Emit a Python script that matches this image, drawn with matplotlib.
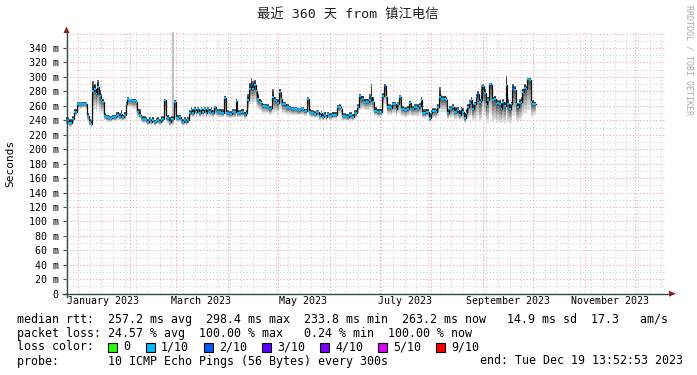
import matplotlib
matplotlib.use("Agg")
import matplotlib.pyplot as plt
import matplotlib.dates as mdates
from matplotlib.patches import Rectangle, Polygon
from matplotlib.lines import Line2D
from datetime import datetime, timedelta

# ---------------- data ----------------
title = "最近 360 天 from 镇江电信"
y_label = "Seconds"
start_time = datetime(2022, 12, 24, 13, 52, 53)
end_time = datetime(2023, 12, 19, 13, 52, 53)

# day offsets from start of graph
days = [0, 2, 4, 5, 7, 10, 12, 13, 14, 15, 16, 17, 18, 19, 20, 21, 22, 23, 24, 26, 28, 30, 31, 32, 33, 34, 35,
        36, 37, 38, 40, 42, 43, 44, 45, 46, 48, 49, 50, 51, 52, 53, 54, 55, 56, 57, 58, 59, 60, 61, 62, 63, 65, 66, 68, 69, 70, 71, 72, 73,
        74, 75, 76, 77, 78, 79, 80, 81, 82, 83, 84, 85, 86, 87, 88, 89, 90, 91, 92, 93, 95, 96, 98, 100, 102, 103, 105, 107, 108,
        109, 110, 111, 112, 113, 114, 115, 116, 117, 118, 120, 122, 123, 124, 125, 126, 127, 128, 129, 130, 132, 134, 135, 137, 139, 141, 143, 145, 146, 147, 149, 150, 152, 153, 154, 155, 156, 157, 158, 160, 162,
        163, 164, 165, 166, 168, 170, 172, 173, 175, 176, 177, 178, 179, 181, 182, 183, 184, 185, 187, 189, 190, 191, 192, 193, 195, 196, 198, 199, 200, 201, 203, 205, 206, 207, 209, 211, 212, 213,
        214, 216, 218, 219, 220, 222, 223, 224, 225, 226, 228, 229, 230, 232, 233, 235, 236, 237, 238, 239, 240, 241, 242, 243, 244, 245, 246, 247, 248, 249, 250,
        251, 252, 253, 254, 255, 256, 257, 258, 259, 260, 261, 262, 263, 264, 265, 266, 267, 268, 269, 270, 271, 272, 273, 274, 275, 276, 277, 278, 279, 280, 281]

# median rtt (ms)
median_ms = [240, 236, 242, 252, 262, 263, 262, 246, 238, 235, 280, 284, 276, 286, 274, 268, 266, 246, 244, 243, 244, 246, 248, 245, 249, 244, 248,
             262, 270, 268, 267, 266, 252, 248, 244, 242, 240, 237, 240, 238, 241, 237, 239, 240, 238, 241, 242, 268, 244, 243, 238, 242, 266, 243, 244, 240, 238, 240, 237, 240,
             250, 254, 250, 256, 252, 255, 250, 256, 252, 255, 250, 256, 252, 254, 250, 258, 254, 251, 252, 250, 271, 250, 249, 251, 267, 250, 252, 248, 250,
             268, 284, 288, 284, 289, 280, 270, 266, 264, 260, 258, 256, 257, 272, 268, 267, 264, 279, 270, 262, 258, 257, 255, 256, 254, 255, 253, 269, 252, 250, 249, 251, 246, 250, 245, 248, 244, 249, 246, 248, 247,
             258, 259, 256, 246, 245, 247, 245, 250, 258, 273, 268, 270, 266, 266, 268, 272, 266, 253, 252, 252, 274, 287, 272, 258, 257, 262, 256, 262, 272, 256, 254, 256, 264, 256, 258, 257, 260, 268,
             250, 252, 243, 250, 253, 252, 258, 272, 270, 270, 268, 250, 255, 258, 252, 254, 248, 255, 252, 243, 250, 258, 264, 268, 256, 262, 272, 276, 266, 268, 287,
             278, 262, 268, 290, 289, 268, 270, 262, 264, 262, 256, 265, 260, 289, 262, 256, 262, 283, 282, 262, 258, 264, 266, 279, 285, 284, 297, 296, 266, 263, 263]

# smoke: lowest ping (ms)
smoke_lo_ms = [233, 231, 236, 246, 256, 257, 255, 240, 232, 230, 250, 256, 252, 258, 252, 250, 250, 240, 238, 238, 239, 240, 241, 240, 241, 239, 240,
               252, 258, 258, 256, 252, 245, 242, 238, 236, 235, 233, 234, 233, 235, 232, 234, 235, 233, 236, 236, 248, 238, 236, 232, 234, 244, 238, 238, 234, 232, 234, 233, 235,
               244, 246, 244, 248, 245, 247, 244, 248, 245, 247, 243, 248, 245, 246, 244, 248, 246, 245, 244, 244, 248, 244, 243, 244, 248, 244, 244, 242, 244,
               254, 262, 266, 262, 266, 260, 256, 254, 252, 250, 250, 248, 248, 250, 252, 252, 250, 256, 254, 250, 248, 248, 248, 248, 247, 248, 246, 250, 245, 244, 243, 244, 240, 243, 239, 242, 238, 243, 240, 242, 241,
               248, 250, 248, 240, 239, 240, 239, 243, 250, 254, 254, 256, 254, 254, 254, 256, 252, 246, 244, 244, 256, 262, 256, 248, 247, 250, 246, 250, 250, 246, 245, 246, 248, 246, 246, 246, 248, 250,
               243, 244, 237, 242, 243, 243, 246, 252, 252, 252, 250, 242, 244, 245, 242, 243, 240, 243, 242, 236, 240, 242, 244, 246, 240, 240, 242, 246, 238, 240, 252,
               246, 236, 236, 250, 248, 238, 240, 236, 238, 236, 236, 238, 236, 248, 238, 236, 236, 246, 246, 240, 238, 240, 242, 248, 250, 250, 254, 254, 244, 246, 248]

# smoke: highest ping (ms)
smoke_hi_ms = [244, 242, 246, 256, 265, 266, 265, 250, 242, 240, 294, 290, 282, 296, 282, 276, 270, 250, 248, 246, 248, 252, 252, 250, 254, 248, 252,
               266, 272, 270, 270, 268, 256, 256, 248, 246, 244, 242, 244, 242, 245, 241, 243, 245, 242, 246, 246, 270, 248, 248, 244, 246, 268, 248, 248, 244, 242, 244, 242, 244,
               254, 258, 256, 259, 256, 258, 254, 259, 256, 258, 254, 258, 256, 258, 254, 260, 258, 256, 256, 255, 274, 254, 253, 255, 270, 254, 256, 252, 254,
               276, 292, 298, 294, 296, 286, 276, 270, 268, 263, 262, 260, 260, 283, 272, 270, 270, 284, 276, 266, 262, 260, 258, 258, 257, 258, 256, 272, 256, 254, 253, 254, 250, 253, 249, 252, 248, 252, 250, 252, 252,
               261, 262, 260, 250, 249, 251, 249, 254, 262, 277, 272, 274, 270, 270, 276, 290, 272, 258, 256, 256, 278, 290, 280, 262, 261, 266, 260, 265, 275, 260, 258, 260, 267, 260, 262, 262, 264, 272,
               256, 256, 250, 254, 257, 256, 262, 286, 275, 274, 272, 256, 260, 262, 258, 258, 254, 259, 257, 250, 255, 263, 268, 272, 262, 266, 276, 280, 270, 289, 290,
               283, 266, 272, 292, 292, 272, 274, 266, 268, 268, 264, 270, 266, 301, 270, 262, 266, 290, 288, 268, 264, 270, 272, 284, 290, 288, 299, 299, 272, 268, 266]

data_end_day = 282
loss2_days = [111, 191, 247, 255, 268]      # steps where median is drawn in "2/10" colour
outlier_day = [64]                           # single light-grey outlier column
outlier_lo_ms = [244]
outlier_hi_ms = [362]

y_ticks = [0, 20, 40, 60, 80, 100, 120, 140, 160, 180, 200, 220, 240, 260, 280, 300, 320, 340]
x_label_months = [(2023, 1, "January 2023"), (2023, 3, "March 2023"), (2023, 5, "May 2023"),
                  (2023, 7, "July 2023"), (2023, 9, "September 2023"), (2023, 11, "November 2023")]

legend_rtt = "median rtt:  257.2 ms avg  298.4 ms max  233.8 ms min  263.2 ms now   14.9 ms sd  17.3   am/s"
legend_loss = "packet loss: 24.57 % avg  100.00 % max   0.24 % min  100.00 % now"
loss_labels = ["0", "1/10", "2/10", "3/10", "4/10", "5/10", "9/10"]
loss_colors = ["#26ff00", "#00b8ff", "#0059ff", "#5e00ff", "#7e00ff", "#dd00ff", "#ff0000"]
probe_text = "probe:       10 ICMP Echo Pings (56 Bytes) every 300s"
end_text = "end: Tue Dec 19 13:52:53 2023"
credit = "RRDTOOL / TOBI OETIKER"

assert len(days) == len(median_ms) == len(smoke_lo_ms) == len(smoke_hi_ms)

# ---------------- figure ----------------
W, H = 697, 375
fig = plt.figure(figsize=(W / 100, H / 100), dpi=100)
fig.patch.set_facecolor("white")
MONO = "DejaVu Sans Mono"


def fx(px):
    return px / W


def fy(py):
    return 1 - py / H


L, R, T, B = 65.5, 665.5, 32.0, 293.7
ax = fig.add_axes([fx(L), fy(B), (R - L) / W, (B - T) / H])
ax.set_facecolor("white")
for s in ax.spines.values():
    s.set_visible(False)

x0 = mdates.date2num(start_time)
x1 = mdates.date2num(end_time)
ax.set_xlim(x0, x1)
ax.set_ylim(0, 362.2)

# grid
grid_minor = "#d2d2d2"
grid_major = "#e9a3a3"
dot = (0, (1, 2))
for v in range(10, 361, 10):
    major = v % 20 == 0
    ax.axhline(v, color=grid_major if major else grid_minor, lw=0.8, ls=dot, zorder=1)
d = datetime(2022, 12, 25)  # Sundays
while d < end_time:
    if d.day != 1:
        ax.axvline(mdates.date2num(d), color=grid_minor, lw=0.8, ls=dot, zorder=1)
    d += timedelta(days=7)
for m in range(1, 13):
    ax.axvline(mdates.date2num(datetime(2023, m, 1)), color=grid_major, lw=0.8, ls=dot, zorder=1)

# data in date coordinates
xs = [mdates.date2num(start_time + timedelta(days=v)) for v in days]
xs_ext = xs + [mdates.date2num(start_time + timedelta(days=data_end_day))]
med_ext = median_ms + [median_ms[-1]]
lo_ext = smoke_lo_ms + [smoke_lo_ms[-1]]
hi_ext = smoke_hi_ms + [smoke_hi_ms[-1]]

# outlier column
for dd, lo, hi in zip(outlier_day, outlier_lo_ms, outlier_hi_ms):
    xa = mdates.date2num(start_time + timedelta(days=dd))
    ax.fill_between([xa, xa + 0.9], [lo, lo], [hi, hi], color="#c4c4c4", lw=0, zorder=2)

# smoke below median
lower_greys = ["#5a5a5a", "#767676", "#939393", "#afafaf", "#c8c8c8", "#dedede"]
n = len(lower_greys)
for j, c in enumerate(lower_greys):
    f0, f1 = j / n, (j + 1) / n
    a = [m - (m - l) * f0 for m, l in zip(med_ext, lo_ext)]
    b = [m - (m - l) * f1 for m, l in zip(med_ext, lo_ext)]
    ax.fill_between(xs_ext, b, a, step="post", color=c, lw=0, zorder=2)
# smoke above median
upper_greys = ["#1c1c1c", "#2e2e2e", "#474747", "#6a6a6a"]
n = len(upper_greys)
for j, c in enumerate(upper_greys):
    f0, f1 = j / n, (j + 1) / n
    a = [m + (h - m) * f0 for m, h in zip(med_ext, hi_ext)]
    b = [m + (h - m) * f1 for m, h in zip(med_ext, hi_ext)]
    ax.fill_between(xs_ext, a, b, step="post", color=c, lw=0, zorder=2)

# median line: black connectors + loss-coloured steps
ax.step(xs_ext, med_ext, where="post", color="#111111", lw=0.9, zorder=3)
seg_colors = [loss_colors[2] if dd in loss2_days else loss_colors[1] for dd in days]
ax.hlines(median_ms, xs_ext[:-1], xs_ext[1:], colors=seg_colors, lw=1.6, zorder=4)

# y ticks
ax.set_yticks(y_ticks)
ax.set_yticklabels([("%d m" % v) if v else "0" for v in y_ticks], fontfamily=MONO, fontsize=7.2)
ax.tick_params(axis="y", length=2, width=0.8, color="#2c4d43", pad=3)

# x tick labels at mid-month
xt = [mdates.date2num(datetime(yy, mm, 16)) for yy, mm, _ in x_label_months]
ax.set_xticks(xt)
ax.set_xticklabels([lab for _, _, lab in x_label_months], fontfamily=MONO, fontsize=7.2)
ax.tick_params(axis="x", length=0, pad=2)

# axes lines with arrows
axis_c = "#2c4d43"
arrow_c = "#9a1a1a"
fig.add_artist(Line2D([fx(66.5), fx(66.5)], [fy(297), fy(31)], color=axis_c, lw=1.0))
fig.add_artist(Line2D([fx(63), fx(670)], [fy(B), fy(B)], color=axis_c, lw=1.0))
fig.add_artist(Polygon([[fx(63.5), fy(33)], [fx(69.5), fy(33)], [fx(66.5), fy(26.5)]], closed=True,
                       color=arrow_c, lw=0))
fig.add_artist(Polygon([[fx(669), fy(B - 3)], [fx(669), fy(B + 3)], [fx(676), fy(B)]], closed=True,
                       color=arrow_c, lw=0))

# title, axis label, credit
fig.text(fx(348), fy(15), title, ha="center", va="center", fontsize=9.6,
         family=[MONO, "Noto Sans CJK SC"], color="#222222")
fig.text(fx(10), fy(163), y_label, rotation=90, ha="center", va="center", fontsize=8, family=MONO)
fig.text(fx(689), fy(60), credit, rotation=270, ha="center", va="center", fontsize=6,
         family=MONO, color="#a8a8a8")

# legend
LEG_FS = 8.4
fig.text(fx(17), fy(319), legend_rtt, ha="left", va="center", fontsize=LEG_FS, family=MONO)
fig.text(fx(17), fy(333), legend_loss, ha="left", va="center", fontsize=LEG_FS, family=MONO)
fig.text(fx(17), fy(347), "loss color:", ha="left", va="center", fontsize=LEG_FS, family=MONO)
box_x = [108, 146, 204, 262, 320, 378, 436]
for bx, lab, col in zip(box_x, loss_labels, loss_colors):
    fig.add_artist(Rectangle((fx(bx), fy(352)), 9 / W, 9 / H, facecolor=col, edgecolor="black", lw=0.8))
    fig.text(fx(bx + 15), fy(347), lab, ha="left", va="center", fontsize=LEG_FS, family=MONO)
fig.text(fx(17), fy(361), probe_text, ha="left", va="center", fontsize=LEG_FS, family=MONO)
fig.text(fx(683), fy(361), end_text, ha="right", va="center", fontsize=LEG_FS, family=MONO)

fig.savefig("out.png", dpi=100, facecolor="white")
